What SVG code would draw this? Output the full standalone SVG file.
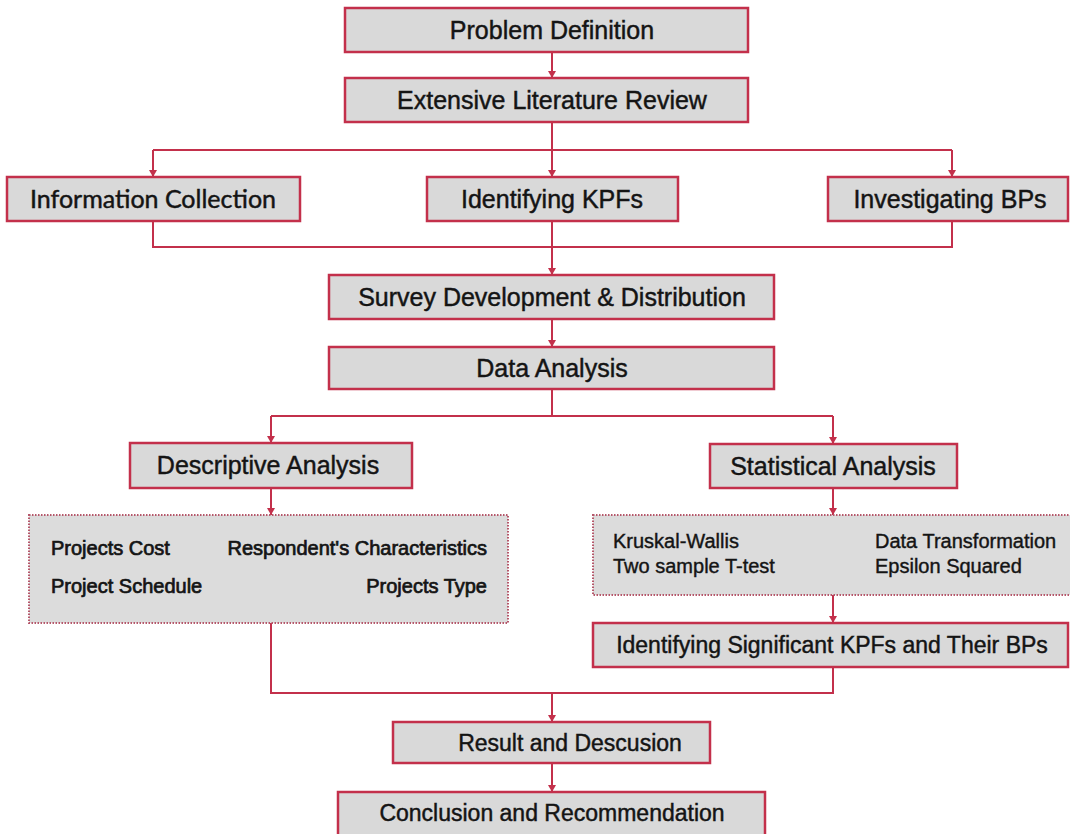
<svg xmlns="http://www.w3.org/2000/svg" width="1070" height="834" viewBox="0 0 1070 834">
  <style>
    .box { fill: #d9d9d9; stroke: #c3304b; stroke-width: 2.5; }
    .dot { fill: #dcdcdc; stroke: #b5576a; stroke-width: 2; stroke-dasharray: 1.5 1.5; }
    text { fill: #141414; stroke: #141414; stroke-width: 0.45; }
    .lbl { font-family: "Liberation Sans", Arial, sans-serif; font-size: 25px; text-anchor: middle; }
    .lbl23 { font-family: "Liberation Sans", Arial, sans-serif; font-size: 23px; text-anchor: middle; }
    .cal { font-family: Lato, "Open Sans", sans-serif; font-size: 25px; text-anchor: middle; }
    .sm { font-family: "Liberation Sans", Arial, sans-serif; font-size: 20px; stroke-width: 0.7; }
    .sm2 { font-family: "Liberation Sans", Arial, sans-serif; font-size: 20px; stroke-width: 0.4; }
    .end { text-anchor: end; }
    .conn path { fill: none; stroke: #c3304b; stroke-width: 2; }
    .arr { marker-end: url(#head); }
  </style>
  <defs>
    <marker id="head" markerUnits="userSpaceOnUse" markerWidth="9" markerHeight="9" refX="7" refY="4" orient="auto">
      <path d="M0,0 L7,4 L0,8 Z" fill="#c3304b"/>
    </marker>
  </defs>

  <rect width="1070" height="834" fill="#ffffff"/>

  <!-- connectors -->
  <g id="connectors" class="conn">
    <path class="arr" d="M552,52 V78"/>
    <path d="M552,122 V150 M153,150 H952"/>
    <path class="arr" d="M153,150 V177"/>
    <path class="arr" d="M552,150 V177"/>
    <path class="arr" d="M952,150 V177"/>
    <path d="M153,221 V247 H952 V221"/>
    <path class="arr" d="M552,221 V275"/>
    <path class="arr" d="M552,319 V347"/>
    <path d="M552,389 V416 M271,416 H833"/>
    <path class="arr" d="M271,416 V443"/>
    <path class="arr" d="M833,416 V444"/>
    <path class="arr" d="M271,488 V515"/>
    <path class="arr" d="M833,488 V515"/>
    <path class="arr" d="M833,595 V623"/>
    <path d="M271,623 V693 H833 V667"/>
    <path class="arr" d="M552,693 V722"/>
    <path class="arr" d="M552,763 V792"/>
  </g>

  <g id="problem-definition">
    <rect class="box" x="345" y="8" width="403" height="44"/>
    <text class="lbl" x="552" y="39">Problem Definition</text>
  </g>
  <g id="literature-review">
    <rect class="box" x="345" y="78" width="403" height="44"/>
    <text class="lbl" x="552" y="109">Extensive Literature Review</text>
  </g>
  <g id="information-collection">
    <rect class="box" x="7" y="177" width="293" height="44"/>
    <text class="cal" x="153" y="208">Information Collection</text>
  </g>
  <g id="identifying-kpfs">
    <rect class="box" x="427" y="177" width="251" height="44"/>
    <text class="lbl" x="552" y="208">Identifying KPFs</text>
  </g>
  <g id="investigating-bps">
    <rect class="box" x="828" y="177" width="240" height="44"/>
    <text class="lbl" x="950" y="208">Investigating BPs</text>
  </g>
  <g id="survey">
    <rect class="box" x="329" y="275" width="445" height="44"/>
    <text class="lbl" x="552" y="306">Survey Development &amp; Distribution</text>
  </g>
  <g id="data-analysis">
    <rect class="box" x="329" y="347" width="445" height="42"/>
    <text class="lbl" x="552" y="377">Data Analysis</text>
  </g>
  <g id="descriptive-analysis">
    <rect class="box" x="130" y="443" width="282" height="45"/>
    <text class="lbl" x="268" y="474">Descriptive Analysis</text>
  </g>
  <g id="statistical-analysis">
    <rect class="box" x="710" y="444" width="247" height="44"/>
    <text class="lbl" x="833" y="475">Statistical Analysis</text>
  </g>
  <g id="descriptive-items">
    <rect class="dot" x="29" y="515" width="479" height="108"/>
    <text class="sm" x="51" y="555">Projects Cost</text>
    <text class="sm end" x="487" y="555">Respondent's Characteristics</text>
    <text class="sm" x="51" y="593">Project Schedule</text>
    <text class="sm end" x="487" y="593">Projects Type</text>
  </g>
  <g id="statistical-items">
    <rect class="dot" x="593" y="515" width="480" height="80"/>
    <text class="sm2" x="613" y="548">Kruskal-Wallis</text>
    <text class="sm2" x="613" y="573">Two sample T-test</text>
    <text class="sm2" x="875" y="548">Data Transformation</text>
    <text class="sm2" x="875" y="573">Epsilon Squared</text>
  </g>
  <g id="significant-kpfs">
    <rect class="box" x="593" y="623" width="475" height="44"/>
    <text class="lbl23" x="832" y="653">Identifying Significant KPFs and Their BPs</text>
  </g>
  <g id="result-discussion">
    <rect class="box" x="393" y="722" width="317" height="41"/>
    <text class="lbl23" x="570" y="751">Result and Descusion</text>
  </g>
  <g id="conclusion">
    <rect class="box" x="338" y="792" width="427" height="46"/>
    <text class="lbl23" x="552" y="821">Conclusion and Recommendation</text>
  </g>
</svg>
